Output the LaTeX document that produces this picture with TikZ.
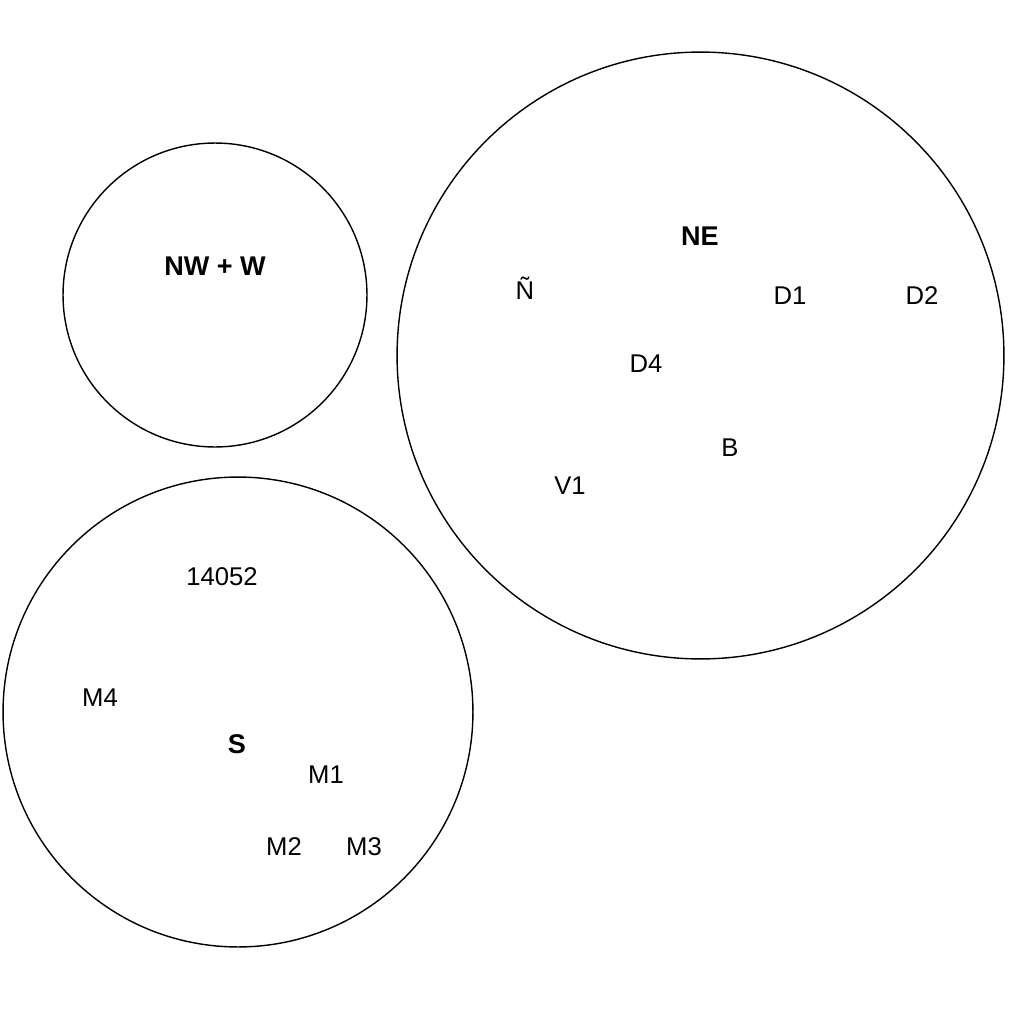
\documentclass[tikz,border=0pt]{standalone}
\usepackage{fontspec}
\setmainfont{Liberation Sans}
\usepackage{tikz}

\begin{document}
\begin{tikzpicture}[x=0.02cm, y=-0.02cm,
  zone/.style={draw, circle, line width=0.8pt, inner sep=0pt},
  place/.style={font=\fontsize{14.6}{17}\selectfont},
  region/.style={font=\fontsize{15.4}{18}\selectfont\bfseries}]
\useasboundingbox (0,0) rectangle (1022,1011);
% the three circles
\node[zone, minimum size=6.08cm] (nww) at (215,295) {};
\node[zone, minimum size=12.14cm] (ne) at (700.5,355.5) {};
\node[zone, minimum size=9.4cm] (s) at (238,712) {};
% region names
\node[region] (nwwname) at (215,266) {NW + W};
\node[region] (nename) at (700,236) {NE};
\node[region] (sname) at (237,744) {S};
% places in NE
\node[place] (enye) at (525,288) {Ñ};
\node[place] (d1) at (790,296) {D1};
\node[place] (d2) at (922,296) {D2};
\node[place] (d4) at (646,364) {D4};
\node[place] (b) at (730,448) {B};
\node[place] (v1) at (570,486) {V1};
% places in S
\node[place] (code) at (222,577) {14052};
\node[place] (m4) at (100,698) {M4};
\node[place] (m1) at (326,775) {M1};
\node[place] (m2) at (284,847) {M2};
\node[place] (m3) at (364,847) {M3};
\end{tikzpicture}
\end{document}
